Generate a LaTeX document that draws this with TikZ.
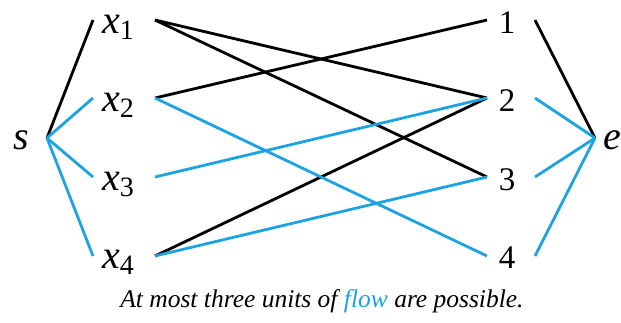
\documentclass[tikz,border=0pt]{standalone}
\usepackage{fontspec}
\setmainfont{Liberation Serif}
\definecolor{flowblue}{RGB}{27,163,226}
\begin{document}
\begin{tikzpicture}[x=1pt,y=-1pt,
  edge/.style={line width=2.8pt,line cap=butt},
  blk/.style={edge,black},
  blu/.style={edge,flowblue},
  lbl/.style={inner sep=0pt,anchor=base,font=\fontsize{33}{36}\selectfont},
  xl/.style={inner sep=0pt,anchor=base west},
]
\useasboundingbox (0,0) rectangle (621,322);
% labels
\node[lbl] (s) at (21,149) {\fontsize{40}{40}\selectfont\itshape s};
\node[lbl] (e) at (612,149) {\fontsize{40}{40}\selectfont\itshape e};
\foreach \i/\y in {1/33,2/111,3/190,4/268}{
  \node[xl] (x\i) at (102,\y) {\fontsize{40}{40}\selectfont\itshape x\raisebox{-6pt}{\fontsize{28}{28}\selectfont\upshape\i}};
  \node[lbl] (n\i) at (507,\y) {\i};
}
% connector end points
\coordinate (sR) at (47,138);
\coordinate (eL) at (595,138);
\foreach \i/\y in {1/20,2/98,3/177,4/256}{
  \coordinate (x\i L) at (93,\y);
  \coordinate (x\i R) at (155,\y);
  \coordinate (n\i L) at (487,\y);
  \coordinate (n\i R) at (535,\y);
}
% black edges
\draw[blk] (sR) -- (x1L);
\draw[blk] (x1R) -- (n2L);
\draw[blk] (x1R) -- (n3L);
\draw[blk] (x2R) -- (n1L);
\draw[blk] (x4R) -- (n2L);
\draw[blk] (n1R) -- (eL);
% blue edges
\draw[blu] (sR) -- (x2L);
\draw[blu] (sR) -- (x3L);
\draw[blu] (sR) -- (x4L);
\draw[blu] (x2R) -- (n4L);
\draw[blu] (x3R) -- (n2L);
\draw[blu] (x4R) -- (n3L);
\draw[blu] (n2R) -- (eL);
\draw[blu] (n3R) -- (eL);
\draw[blu] (n4R) -- (eL);
% caption
\node[inner sep=0pt,anchor=base] (cap) at (322,307) {\fontsize{25.5}{28}\selectfont\itshape At most three units of \textcolor{flowblue}{flow} are possible.};
\end{tikzpicture}
\end{document}
